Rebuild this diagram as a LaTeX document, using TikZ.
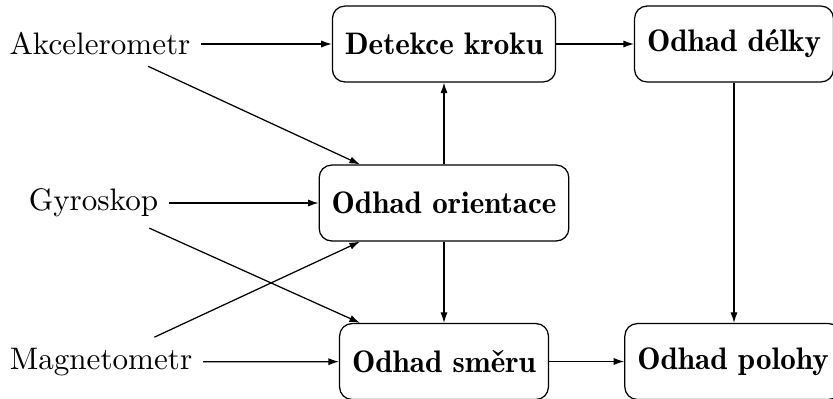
\documentclass[tikz,border=0pt]{standalone}
\usepackage{fontspec}
\usepackage{tikz}
\usetikzlibrary{arrows.meta,positioning,calc}
\IfFontExistsTF{lmromandemi10-regular.otf}
  {\newfontfamily\demifont{lmromandemi10-regular.otf}}
  {\newcommand\demifont{\bfseries}}

\tikzset{
  blok/.style={draw,rounded corners=4pt,font=\demifont,inner xsep=4pt,minimum height=24.4pt},
  senzor/.style={inner sep=.3333em},
  sipka/.style={-{Latex[length=3.4pt,width=2.3pt]}}
}

\begin{document}
\begin{tikzpicture}[x=1.13cm,y=1.13cm]
  \useasboundingbox (0,0) rectangle (8.33,3.98);
  % bloky
  \node[blok] (det) at (4.44,3.54) {Detekce kroku};
  \node[blok] (delky) at (7.34,3.54) {Odhad délky};
  \node[blok] (ori) at (4.44,1.95) {Odhad orientace};
  \node[blok] (smer) at (4.44,.365) {Odhad směru};
  \node[blok] (poloha) at (7.33,.365) {Odhad polohy};
  % senzory
  \node[senzor] (akc) at (1.00,3.54) {Akcelerometr};
  \node[senzor] (gyr) at (.935,1.95) {Gyroskop};
  \node[senzor] (mag) at (1.01,.36) {Magnetometr};
  \coordinate (oriN) at ($(ori.north)+(-.84,0)$);
  \coordinate (oriS) at ($(ori.south)+(-.84,0)$);
  \coordinate (smerN) at ($(smer.north)+(-.84,0)$);
  % spoje
  \draw[sipka] (akc) -- (det);
  \draw[sipka] (gyr) -- (ori);
  \draw[sipka] (mag) -- (smer);
  \draw[sipka] (akc) -- (oriN);
  \draw[sipka] (gyr) -- (smerN);
  \draw[sipka] (mag) -- (oriS);
  \draw[sipka] (det) -- (delky);
  \draw[sipka] (ori) -- (det);
  \draw[sipka] (ori) -- (smer);
  \draw[sipka] (delky.south) -- (delky.south |- poloha.north);
  \draw[sipka] (smer) -- (poloha);
\end{tikzpicture}
\end{document}
